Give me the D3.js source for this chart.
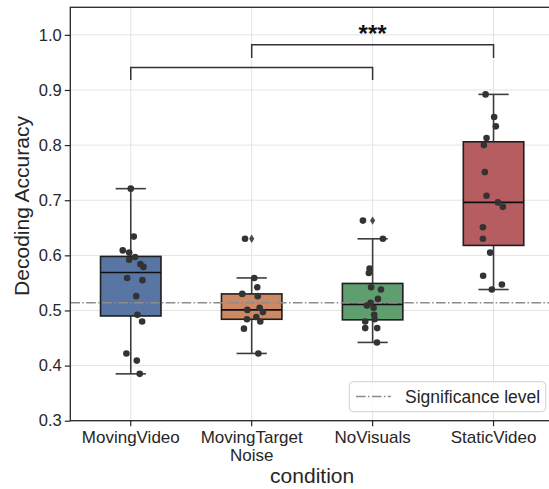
<!DOCTYPE html>
<html><head><meta charset="utf-8">
<script src="https://cdn.jsdelivr.net/npm/d3@7"></script>
<style>body{margin:0;background:#fff}svg{display:block}text{font-family:"Liberation Sans",Arial,sans-serif;fill:#262626}</style>
</head><body>
<script>
const categories = ["MovingVideo", "MovingTarget\nNoise", "NoVisuals", "StaticVideo"];
const whiskerLow = [0.385, 0.422, 0.442, 0.538];
const q1 = [0.490, 0.484, 0.483, 0.618];
const median = [0.569, 0.501, 0.511, 0.696];
const q3 = [0.598, 0.530, 0.549, 0.806];
const whiskerHigh = [0.721, 0.559, 0.630, 0.892];
const fliers = [[], [0.630], [0.663], []];
// observed values; jitter as fraction of category width
const movingVideo = [0.721,0.634,0.609,0.605,0.597,0.592,0.584,0.579,0.559,0.555,0.526,0.492,0.480,0.422,0.409,0.385];
const movingVideoJitter = [0,0.025,-0.066,-0.013,0.036,-0.013,0.080,0.105,-0.030,0.097,0.045,0.055,0.094,-0.036,0.050,0.074];
const movingTarget = [0.630,0.559,0.542,0.530,0.526,0.505,0.501,0.497,0.488,0.484,0.480,0.467,0.422];
const movingTargetJitter = [-0.055,0.021,0.046,-0.078,0.050,0.066,-0.036,0.093,0.038,-0.039,0.071,-0.064,0.055];
const noVisuals = [0.663,0.630,0.576,0.568,0.542,0.538,0.521,0.514,0.509,0.505,0.492,0.484,0.480,0.468,0.468,0.442];
const noVisualsJitter = [-0.080,0.085,-0.025,-0.031,-0.012,0.069,0.044,-0.017,-0.047,0.008,0.013,0.017,-0.061,-0.061,0.038,0.036];
const staticVideo = [0.892,0.851,0.834,0.813,0.800,0.751,0.708,0.696,0.688,0.651,0.630,0.605,0.563,0.547,0.538];
const staticVideoJitter = [-0.066,0.005,0.019,-0.058,-0.080,-0.072,-0.058,0.036,0.077,-0.088,-0.088,-0.028,-0.086,0.069,-0.014];
const pointValues = [movingVideo, movingTarget, noVisuals, staticVideo];
const pointJitter = [movingVideoJitter, movingTargetJitter, noVisualsJitter, staticVideoJitter];
const significanceLevel = 0.514;
const brackets = [{from:0, to:2, y:0.941, drop:0.918, label:""}, {from:1, to:3, y:0.982, drop:0.958, label:"***"}];
const yTicks = [0.3,0.4,0.5,0.6,0.7,0.8,0.9,1.0];
const colors = ["#5975a4", "#cc8963", "#5f9e6e", "#b55d60"];

const W = 549, H = 489;
const L = 70.3, R = 554, T = 7.3, B = 420.7;
const svg = d3.select("body").append("svg").attr("width", W).attr("height", H);
const x = d3.scaleBand().domain(categories).range([L, R]).padding(0);
const y = d3.scaleLinear().domain([0.3, 1.05]).range([B, T]);
const cx = i => x(categories[i]) + x.bandwidth() / 2;
const bw = x.bandwidth() * 0.5;

// grid
const g = svg.append("g");
g.selectAll(".hg").data(yTicks).join("line").attr("x1", L).attr("x2", R)
  .attr("y1", d => y(d)).attr("y2", d => y(d)).attr("stroke", "#e3e3e3").attr("stroke-width", 1);
g.selectAll(".vg").data(categories).join("line").attr("y1", T).attr("y2", B)
  .attr("x1", d => x(d) + x.bandwidth()/2).attr("x2", d => x(d) + x.bandwidth()/2).attr("stroke", "#e3e3e3").attr("stroke-width", 1);

// boxes
categories.forEach((c, i) => {
  const xc = cx(i);
  const bg = svg.append("g");
  bg.append("line").attr("x1", xc).attr("x2", xc).attr("y1", y(whiskerLow[i])).attr("y2", y(q1[i])).attr("stroke", "#3d3d3d").attr("stroke-width", 1.6);
  bg.append("line").attr("x1", xc).attr("x2", xc).attr("y1", y(q3[i])).attr("y2", y(whiskerHigh[i])).attr("stroke", "#3d3d3d").attr("stroke-width", 1.6);
  [whiskerLow[i], whiskerHigh[i]].forEach(v => bg.append("line").attr("x1", xc - bw/4).attr("x2", xc + bw/4)
      .attr("y1", y(v)).attr("y2", y(v)).attr("stroke", "#3d3d3d").attr("stroke-width", 1.6));
  bg.append("rect").attr("x", xc - bw/2).attr("width", bw).attr("y", y(q3[i])).attr("height", y(q1[i]) - y(q3[i]))
    .attr("fill", colors[i]).attr("stroke", "#1f1f1f").attr("stroke-width", 1.6);
  bg.append("line").attr("x1", xc - bw/2).attr("x2", xc + bw/2).attr("y1", y(median[i])).attr("y2", y(median[i])).attr("stroke", "#111").attr("stroke-width", 1.6);
  fliers[i].forEach(v => bg.append("path").attr("d", `M${xc},${y(v)-4.2}L${xc+2.6},${y(v)}L${xc},${y(v)+4.2}L${xc-2.6},${y(v)}Z`).attr("fill", "#4a4a4a"));
});

// significance line
svg.append("line").attr("x1", L).attr("x2", R).attr("y1", y(significanceLevel)).attr("y2", y(significanceLevel))
  .attr("stroke", "#8c8c8c").attr("stroke-width", 1.5).attr("stroke-dasharray", "9.6,2.4,1.5,2.4");

// points
pointValues.forEach((vals, i) => {
  svg.append("g").selectAll("circle").data(vals).join("circle")
    .attr("cx", (d, j) => cx(i) + pointJitter[i][j] * x.bandwidth())
    .attr("cy", d => y(d)).attr("r", 3.3).attr("fill", "#333333");
});

// brackets
brackets.forEach(b => {
  const x1 = cx(b.from), x2 = cx(b.to);
  svg.append("path").attr("d", `M${x1},${y(b.drop)}V${y(b.y)}H${x2}V${y(b.drop)}`)
    .attr("fill", "none").attr("stroke", "#333").attr("stroke-width", 1.5);
  if (b.label) svg.append("text").attr("x", (x1 + x2) / 2).attr("y", y(b.y) - 3)
    .attr("text-anchor", "middle").attr("font-size", 24).attr("font-weight", "bold").style("fill", "#111").text(b.label);
});

// frame
svg.append("rect").attr("x", L).attr("y", T).attr("width", R - L).attr("height", B - T)
  .attr("fill", "none").attr("stroke", "#262626").attr("stroke-width", 1.3);

// axes
const yAxis = svg.append("g").attr("transform", `translate(${L},0)`)
  .call(d3.axisLeft(y).tickValues(yTicks).tickFormat(d3.format(".1f")).tickSize(5.5).tickPadding(3));
yAxis.select(".domain").remove();
yAxis.selectAll("line").attr("stroke", "#262626").attr("stroke-width", 1.2);
yAxis.selectAll("text").attr("font-size", 16.5).style("font-family", '"Liberation Sans",Arial,sans-serif').style("fill", "#262626");

const xAxis = svg.append("g").attr("transform", `translate(0,${B})`)
  .call(d3.axisBottom(x).tickSize(5.5).tickFormat(""));
xAxis.select(".domain").remove();
xAxis.selectAll("line").attr("stroke", "#262626").attr("stroke-width", 1.2);
xAxis.selectAll(".tick").each(function(d) {
  const t = d3.select(this).append("text").attr("text-anchor", "middle").attr("font-size", 17).style("fill", "#262626");
  d.split("\n").forEach((s, k) => t.append("tspan").attr("x", 0).attr("y", 22.5 + k * 17.5).text(s));
});

svg.append("text").attr("x", (L + R) / 2).attr("y", 483).attr("text-anchor", "middle").attr("font-size", 21).text("condition");
svg.append("text").attr("transform", `translate(29,206) rotate(-90)`).attr("text-anchor", "middle").attr("font-size", 21).text("Decoding Accuracy");

// legend
const lg = svg.append("g");
lg.append("rect").attr("x", 349.3).attr("y", 381.7).attr("width", 196.4).attr("height", 30).attr("rx", 4)
  .attr("fill", "rgba(255,255,255,0.8)").attr("stroke", "#d0d0d0").attr("stroke-width", 1);
lg.append("line").attr("x1", 356).attr("x2", 391).attr("y1", 396.5).attr("y2", 396.5)
  .attr("stroke", "#8c8c8c").attr("stroke-width", 1.5).attr("stroke-dasharray", "9.6,2.4,1.5,2.4");
lg.append("text").attr("x", 405).attr("y", 402.5).attr("font-size", 17.5).text("Significance level");
</script>
</body></html>
